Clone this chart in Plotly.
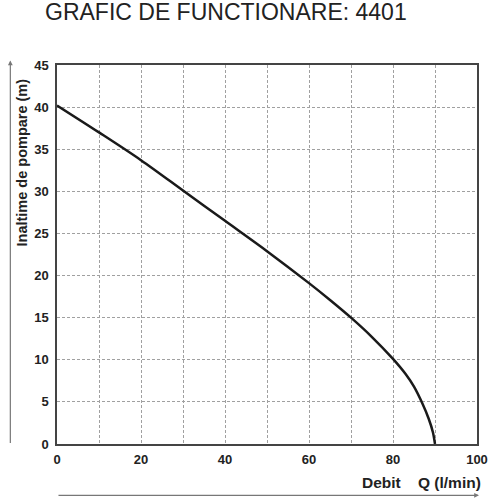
import plotly.graph_objects as go

flow = [0, 10, 20, 30, 40, 50, 60, 65, 70, 75, 80, 83, 85, 87, 88.5, 89.5, 90]
head = [40.2, 37.0, 33.7, 30.1, 26.5, 22.9, 19.1, 17.1, 15.0, 12.7, 10.1, 8.3, 6.8, 4.8, 3.0, 1.4, 0]

x_ticks = [0, 20, 40, 60, 80, 100]
y_ticks = [0, 5, 10, 15, 20, 25, 30, 35, 40, 45]

title_text = "GRAFIC DE FUNCTIONARE: 4401"
x_title = "Debit    Q (l/min)"
y_title = "Inaltime de pompare (m)"

fig = go.Figure()
fig.add_trace(go.Scatter(x=flow, y=head, mode="lines",
                         line=dict(color="#1a1a1a", width=2.5, shape="spline", smoothing=0.9),
                         hoverinfo="skip", showlegend=False))

grid = dict(showgrid=True, gridcolor="#a0a0a0", gridwidth=1, griddash="3px,2px")
tfont = dict(family="Liberation Sans, Arial", size=13, color="#222", weight="bold")
fig.update_xaxes(range=[0, 100], tickvals=x_ticks, **grid,
                 showline=True, linecolor="#444", linewidth=1.5, mirror=True,
                 zeroline=False, ticks="", ticklabelstandoff=3, tickfont=tfont,
                 minor=dict(dtick=10, tick0=0, showgrid=True, gridcolor="#a0a0a0",
                            gridwidth=1, griddash="3px,2px"))
fig.update_yaxes(range=[0, 45], tickvals=y_ticks, **grid,
                 showline=True, linecolor="#444", linewidth=1.5, mirror=True,
                 zeroline=False, ticks="", ticklabelstandoff=4, tickfont=tfont)

W, H = 500, 500
L, R, T, B = 57, 20, 64.5, 55.5
pw, ph = W - L - R, H - T - B

def px(xp):
    return (xp - L) / pw

def py(yp):
    return (H - B - yp) / ph

annotations = [
    dict(text=title_text, xref="paper", yref="paper", x=px(227), y=py(11), showarrow=False,
         xanchor="center", yanchor="middle",
         font=dict(family="Liberation Sans, Arial", size=23, color="#222")),
    dict(text=x_title, xref="paper", yref="paper", x=px(486), y=py(483), showarrow=False,
         xanchor="right", yanchor="middle",
         font=dict(family="Liberation Sans, Arial", size=15.5, color="#222", weight="bold")),
    dict(text=y_title, xref="paper", yref="paper", x=px(22), y=py(162), showarrow=False,
         xanchor="center", yanchor="middle", textangle=-90,
         font=dict(family="Liberation Sans, Arial", size=14.5, color="#222", weight="bold")),
    dict(text="", xref="paper", yref="paper", x=px(482), y=py(496), ax=-422, ay=0,
         showarrow=True, arrowhead=2, arrowsize=0.8, arrowwidth=1.2, arrowcolor="#777"),
    dict(text="", xref="paper", yref="paper", x=px(10), y=py(60), ax=0, ay=384,
         showarrow=True, arrowhead=2, arrowsize=0.8, arrowwidth=1.2, arrowcolor="#777"),
]

fig.update_layout(width=W, height=H, margin=dict(l=L, r=R, t=T, b=B),
                  plot_bgcolor="white", paper_bgcolor="white",
                  annotations=annotations, showlegend=False)

fig.write_html("out.html", config={"displayModeBar": False},
               post_script="document.body.style.margin='0';")
